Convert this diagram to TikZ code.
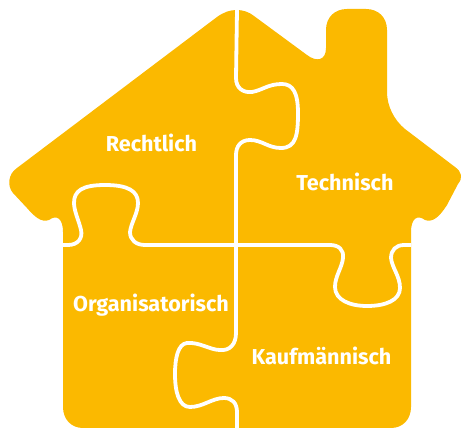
\documentclass[tikz,border=0pt]{standalone}
\usepackage{fontspec}
\setmainfont{Fira Sans}
\definecolor{houseyellow}{HTML}{FBB900}
\tikzset{
  house/.style={fill=houseyellow,draw=none},
  seam/.style={draw=white,line width=3.8pt,line cap=butt,line join=round},
  lab/.style={text=white,font=\fontsize{21.6}{23}\selectfont\bfseries,inner sep=0pt,anchor=base}
}
\begin{document}
\begin{tikzpicture}[x=1pt,y=-1pt]
\useasboundingbox (0,0) rectangle (461,428);
\path[house] (237,10)
  .. controls (243,10) and (249,12) .. (254,16)
  -- (307,55)
  .. controls (316,62) and (326,61) .. (326,48)
  -- (326,30)
  .. controls (326,17) and (335,9) .. (347,9)
  -- (366,9)
  .. controls (378,9) and (387,17) .. (387,30)
  -- (387,92)
  .. controls (387,106) and (394,120) .. (405,129)
  -- (455,167)
  .. controls (462,172) and (463,178) .. (458,184)
  -- (447,205)
  .. controls (440,216) and (433,223) .. (425,220)
  .. controls (417,214) and (411,219) .. (411,232)
  -- (411,407)
  .. controls (411,419) and (403,428) .. (391,428)
  -- (83,428)
  .. controls (71,428) and (63,419) .. (63,407)
  -- (63,232)
  .. controls (63,219) and (57,214) .. (49,220)
  .. controls (41,223) and (34,216) .. (27,208)
  -- (13,193)
  .. controls (7,186) and (8,174) .. (17,168)
  -- (217,17)
  .. controls (224,12) and (230,10) .. (237,10) -- cycle;
\draw[seam] (237,10) -- (236,78)
  .. controls (236,88) and (243,93) .. (252,92)
  .. controls (263,90) and (268,84) .. (282,84)
  .. controls (293,84) and (298,93) .. (298,113)
  .. controls (298,135) and (296,148) .. (281,148)
  .. controls (268,148) and (262,140) .. (250,140)
  .. controls (241,140) and (236,146) .. (236,155)
  -- (236,333)
  .. controls (236,344) and (230,351) .. (220,350)
  .. controls (210,350) and (200,342) .. (187,343)
  .. controls (178,344) and (175,358) .. (175,374)
  .. controls (175,392) and (179,407) .. (190,407)
  .. controls (203,407) and (212,398) .. (224,398)
  .. controls (232,398) and (237,403) .. (237,412)
  -- (237,428);
\draw[seam] (63,245) -- (68,245)
  .. controls (78,245) and (83,238) .. (81,230)
  .. controls (79,221) and (74,211) .. (74,203)
  .. controls (74,191) and (82,185) .. (105,185)
  .. controls (128,185) and (138,191) .. (138,203)
  .. controls (138,213) and (131,223) .. (130,232)
  .. controls (130,240) and (136,245) .. (145,245)
  -- (330,245)
  .. controls (339,245) and (344,250) .. (343,258)
  .. controls (342,268) and (335,276) .. (335,287)
  .. controls (335,300) and (350,306) .. (367,306)
  .. controls (386,306) and (400,300) .. (400,288)
  .. controls (400,276) and (392,268) .. (391,258)
  .. controls (391,250) and (396,245) .. (404,245)
  -- (411,245);
\node[lab] (rechtlich) at (151.5,151.5) {Rechtlich};
\node[lab] (technisch) at (345,190.5) {Technisch};
\node[lab] (organisatorisch) at (151,311.5) {Organisatorisch};
\node[lab] (kaufmaennisch) at (321.5,364.5) {Kaufmännisch};
\end{tikzpicture}
\end{document}
